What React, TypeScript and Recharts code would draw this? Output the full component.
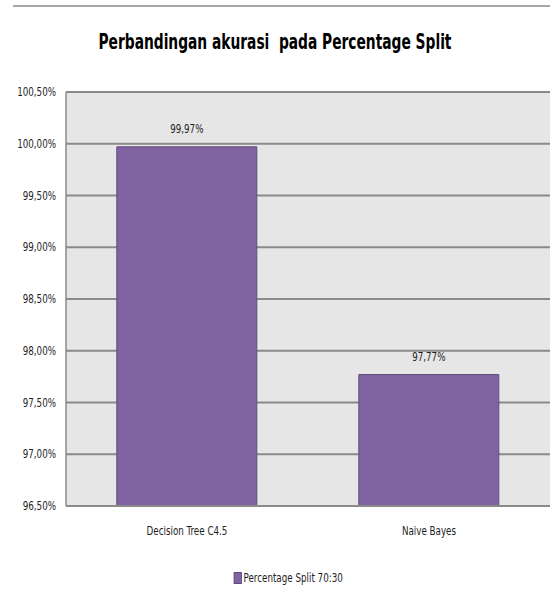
import { Bar, BarChart, CartesianGrid, LabelList, Legend, XAxis, YAxis } from "recharts";

const categories = ["Decision Tree C4.5", "Naive Bayes"];
const accuracy = [99.97, 97.77];
const yTicks = [96.5, 97, 97.5, 98, 98.5, 99, 99.5, 100, 100.5];
const seriesName = "Percentage Split 70:30";

const data = categories.map((name, i) => ({ name, value: accuracy[i] }));

const FONT = "'DejaVu Sans Condensed', 'Liberation Sans', sans-serif";
const SQUEEZE = 0.81;
const INK = "#1e1e1e";

const pct = (v: number) => v.toFixed(2).replace(".", ",") + "%";

// narrow, tall text like the original Calibri labels
function YTick({ x, y, payload }: any) {
  return (
    <text
      transform={`translate(${x},${y}) scale(${SQUEEZE},1)`}
      textAnchor="end"
      dy="0.35em"
      fontSize={12}
      fontFamily={FONT}
      fill={INK}
    >
      {pct(payload.value)}
    </text>
  );
}

function XTick({ x, y, payload }: any) {
  return (
    <text
      transform={`translate(${x},${y}) scale(${SQUEEZE},1)`}
      textAnchor="middle"
      dy="0.71em"
      fontSize={12}
      fontFamily={FONT}
      fill={INK}
    >
      {payload.value}
    </text>
  );
}

function ValueLabel({ x, y, width, value }: any) {
  const cx = Number(x) + Number(width) / 2;
  return (
    <text
      transform={`translate(${cx},${Number(y) - 14}) scale(${SQUEEZE},1)`}
      textAnchor="middle"
      fontSize={12}
      fontFamily={FONT}
      fill={INK}
    >
      {pct(Number(value))}
    </text>
  );
}

function LegendBox() {
  return (
    <div style={{ display: "flex", justifyContent: "center", paddingLeft: 26 }}>
      <div
        style={{
          display: "flex",
          alignItems: "center",
          transform: `scaleX(${SQUEEZE})`,
          fontSize: 12,
          fontFamily: FONT,
          color: INK,
        }}
      >
        <span
          style={{
            display: "inline-block",
            width: 8,
            height: 10,
            background: "#8064a2",
            border: "1px solid #5f4a7e",
            marginRight: 2,
          }}
        />
        {seriesName}
      </div>
    </div>
  );
}

export default function App() {
  return (
    <div
      style={{
        position: "absolute",
        left: 0,
        top: 0,
        width: 550,
        height: 600,
        background: "#fff",
        overflow: "hidden",
        fontFamily: FONT,
      }}
    >
      {/* thin rule at the top of the cropped sheet */}
      <div
        style={{
          position: "absolute",
          left: 13,
          top: 5,
          width: 540,
          height: 2,
          background: "#a6a6a6",
        }}
      />
      <div
        style={{
          position: "absolute",
          left: 0,
          top: 30,
          width: 550,
          textAlign: "center",
          fontSize: 21,
          fontWeight: "bold",
          color: "#000",
          whiteSpace: "pre",
          transform: "scaleX(0.73)",
        }}
      >
        {"Perbandingan akurasi  pada Percentage Split"}
      </div>
      <BarChart
        width={550}
        height={600}
        data={data}
        margin={{ top: 92, right: 0, bottom: 15, left: 0 }}
        barCategoryGap="21%"
      >
        <CartesianGrid
          vertical={false}
          stroke="#8a8a8a"
          strokeWidth={1.8}
          fill="#e6e6e6"
          fillOpacity={1}
        />
        <XAxis
          dataKey="name"
          tickLine={false}
          tickSize={0}
          tickMargin={20}
          height={65}
          axisLine={{ stroke: "#8a8a8a", strokeWidth: 1.8 }}
          tick={<XTick />}
        />
        <YAxis
          domain={[96.5, 100.5]}
          ticks={yTicks}
          allowDataOverflow
          width={66}
          tickLine={false}
          tickSize={0}
          tickMargin={10}
          axisLine={{ stroke: "#8a8a8a", strokeWidth: 1.5 }}
          tick={<YTick />}
        />
        <Legend verticalAlign="bottom" content={<LegendBox />} />
        <Bar
          dataKey="value"
          name={seriesName}
          fill="#8064a2"
          stroke="#5f4a7e"
          strokeWidth={1}
          isAnimationActive={false}
        >
          <LabelList dataKey="value" content={<ValueLabel />} />
        </Bar>
      </BarChart>
    </div>
  );
}
